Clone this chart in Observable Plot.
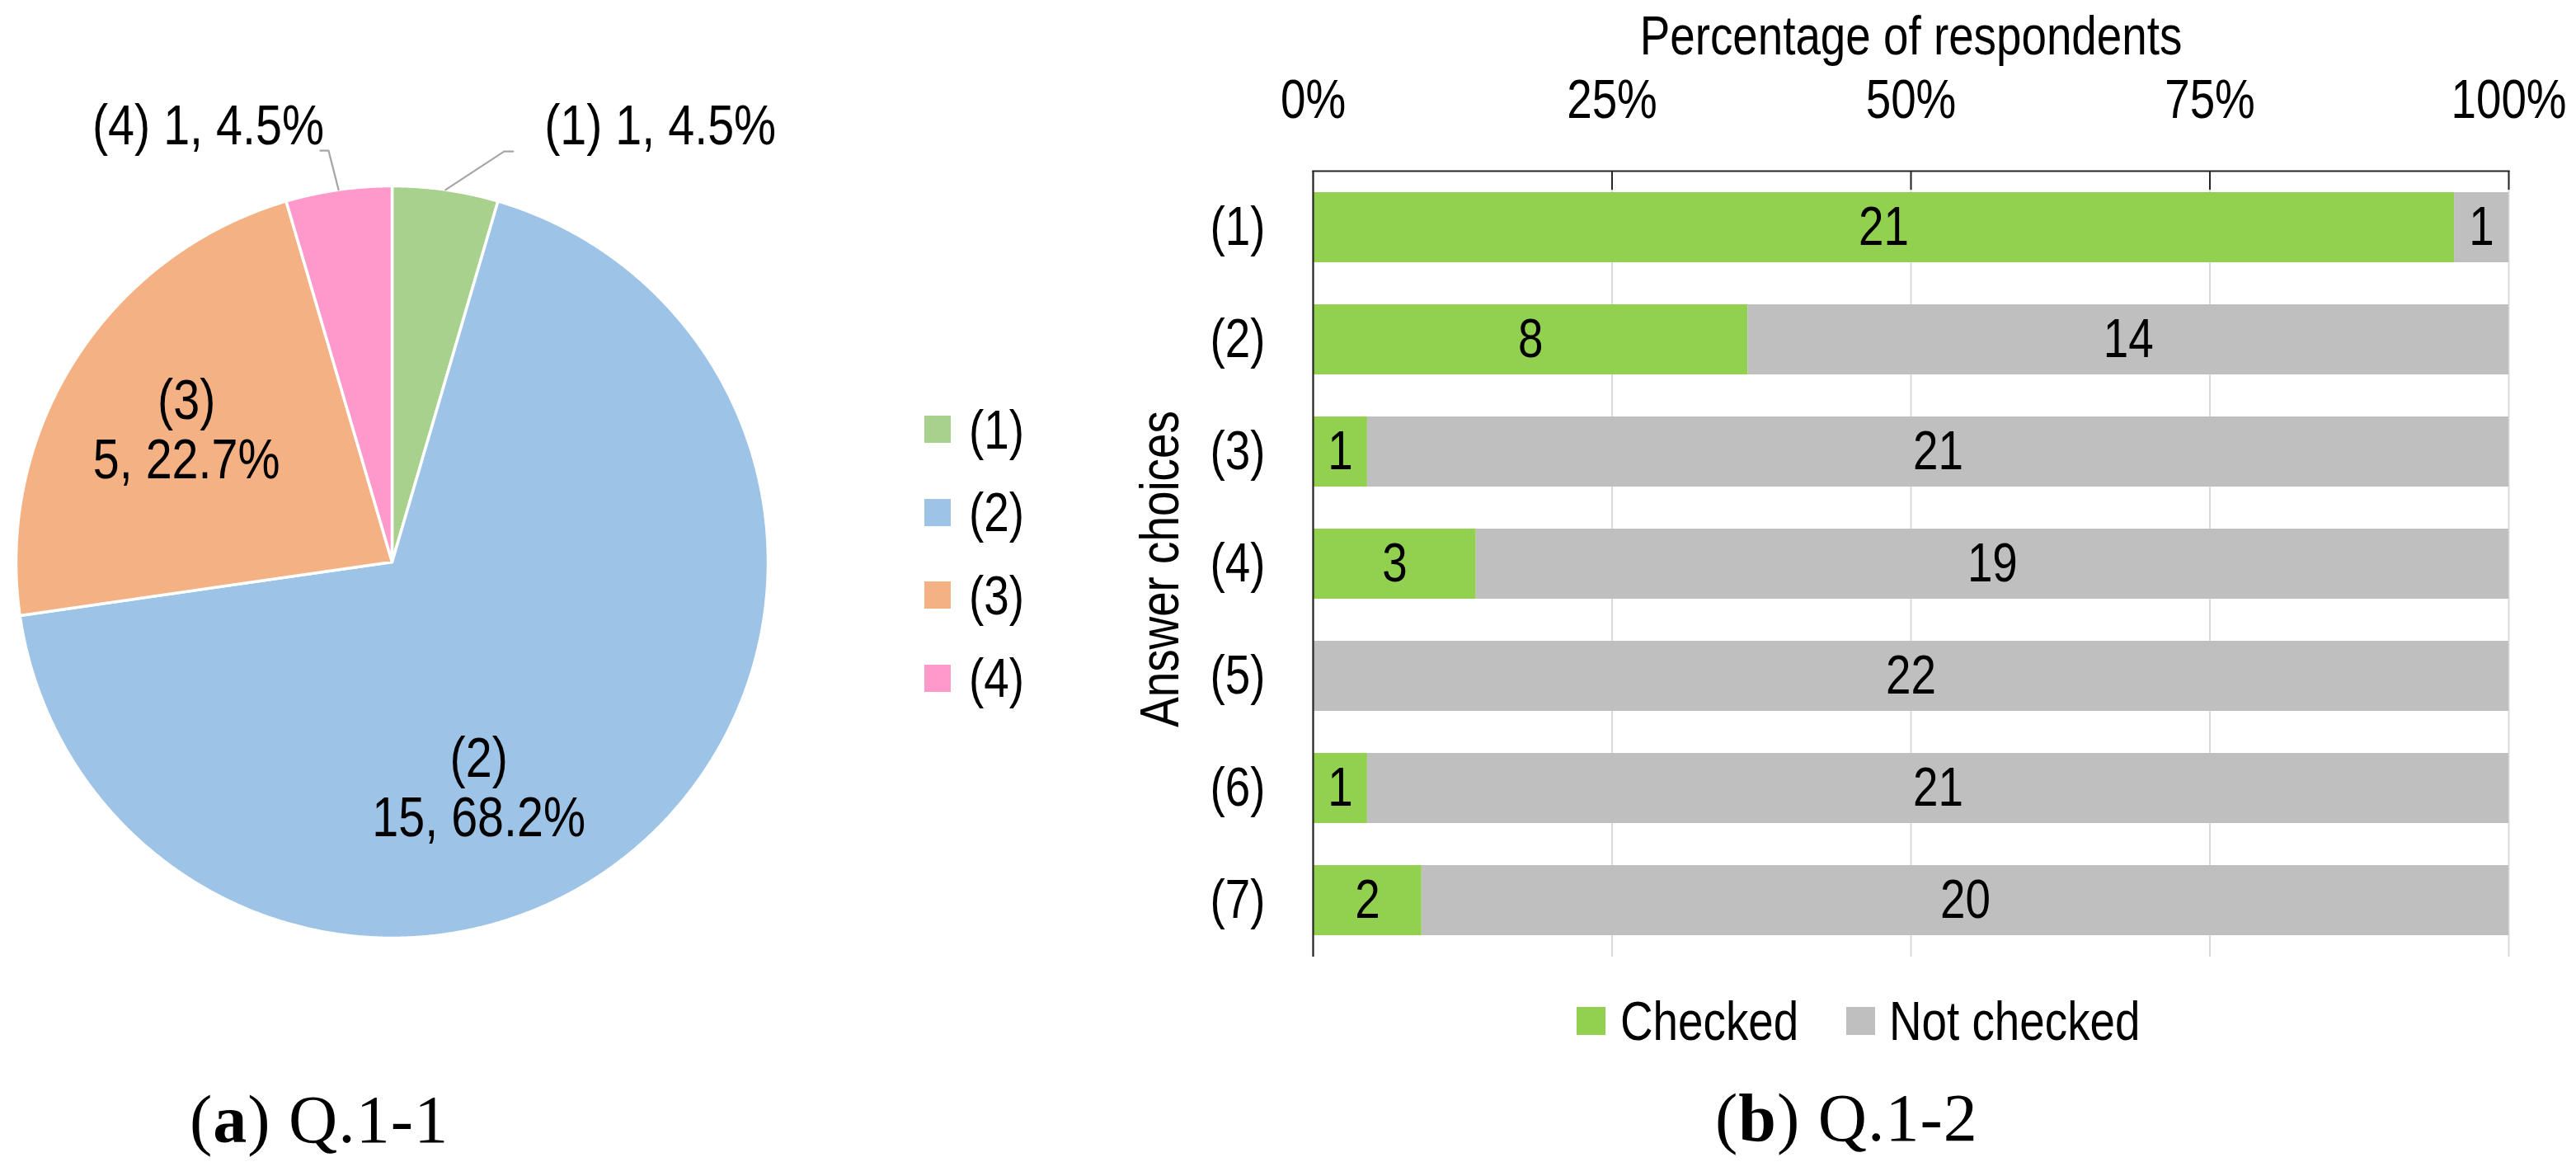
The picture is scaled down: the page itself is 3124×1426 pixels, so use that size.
<!DOCTYPE html>
<html>
<head>
<meta charset="utf-8">
<script src="https://cdn.jsdelivr.net/npm/d3@7"></script>
<script src="https://cdn.jsdelivr.net/npm/@observablehq/plot@0.6"></script>
<style>
  html, body { margin: 0; padding: 0; background: #fff; }
  #root { position: relative; width: 3124px; height: 1426px; overflow: hidden; background: #fff;
          font-family: "Liberation Sans", Arial, sans-serif; color: #000; }
  .abs { position: absolute; }
  .sw { position: absolute; }
  .lt { position: absolute; font-size: 66px; line-height: 66px; height: 66px; white-space: nowrap;
        transform: scaleX(0.83); transform-origin: 0 50%; }
  .cap { position: absolute; font-family: "Liberation Serif", "DejaVu Serif", serif; font-size: 82px; line-height: 82px; white-space: nowrap; letter-spacing: 1px; }
  .cap b { font-weight: bold; }
</style>
</head>
<body>
<div id="root"></div>
<script>
// ---------- data ----------
const pieCategories = ["(1)", "(2)", "(3)", "(4)"];
const pieCounts = [1, 15, 5, 1];
const pieColors = ["#A9D18E", "#9DC3E6", "#F4B183", "#FF99CC"];

const barChoices = ["(1)", "(2)", "(3)", "(4)", "(5)", "(6)", "(7)"];
const barStatuses = ["Checked", "Not checked"];
const checkedCounts = [21, 8, 1, 3, 0, 1, 2];
const notCheckedCounts = [1, 14, 21, 19, 22, 21, 20];
const barColors = ["#92D050", "#BFBFBF"];
const xTicks = [0, 0.25, 0.5, 0.75, 1];

const xAxisTitle = "Percentage of respondents";
const yAxisTitle = "Answer choices";
const captionA = ["a", "Q.1-1"];
const captionB = ["b", "Q.1-2"];

// ---------- layout (not data) ----------
const FONT = '"Liberation Sans", Arial, sans-serif';
const FS = 66;        // bar chart / legend font size
const PIE_FS = 68;    // pie label font size
// narrow the sans font horizontally (reference uses a condensed face)
const NARROW = 0.83;
const PIE_NARROW = 0.845;
const insideLabelPlacement = { "(2)": [0.581, 0.643], "(3)": [0.5, 0.65] };
const outsideLabelPlacement = {
  "(1)": { elbow: [0.298, 1.092], end: [0.322, 1.092], label: [0.405, 1.158], anchor: "start" },
  "(4)": { elbow: [-0.169, 1.094], end: [-0.191, 1.094], label: [-0.181, 1.158], anchor: "end" }
};

const root = document.getElementById("root");

function narrowTexts(svg, s) {
  svg.querySelectorAll("text").forEach(t => {
    const x = parseFloat(t.getAttribute("x")) || 0;
    const y = parseFloat(t.getAttribute("y")) || 0;
    const tr = t.getAttribute("transform") || "";
    t.setAttribute("transform", `${tr} translate(${x},${y}) scale(${s},1) translate(${-x},${-y})`.trim());
  });
}

// ---------- pie ----------
const total = d3.sum(pieCounts);
const arcs = d3.pie().sort(null).value(d => d)(pieCounts);
const pct = d3.format(".1%");
const slicePts = [];
arcs.forEach((a, i) => {
  const key = pieCategories[i];
  slicePts.push({ key, x: 0, y: 0 });
  const n = Math.max(2, Math.ceil((a.endAngle - a.startAngle) / (Math.PI / 720)));
  for (let k = 0; k <= n; k++) {
    const t = a.startAngle + (a.endAngle - a.startAngle) * k / n;
    slicePts.push({ key, x: Math.sin(t), y: Math.cos(t) });
  }
});

const insideLabels = [];
const outsideLabels = [];
const leaderPts = [];
arcs.forEach((a, i) => {
  const key = pieCategories[i];
  const v = pieCounts[i];
  if (insideLabelPlacement[key]) {
    const [f, r] = insideLabelPlacement[key];
    const t = a.startAngle + (a.endAngle - a.startAngle) * f;
    insideLabels.push({ x: r * Math.sin(t), y: r * Math.cos(t), text: `${key}\n${v}, ${pct(v / total)}` });
  } else if (outsideLabelPlacement[key]) {
    const p = outsideLabelPlacement[key];
    const t = (a.startAngle + a.endAngle) / 2;
    leaderPts.push({ key, x: Math.sin(t), y: Math.cos(t) });
    leaderPts.push({ key, x: p.elbow[0], y: p.elbow[1] });
    leaderPts.push({ key, x: p.end[0], y: p.end[1] });
    outsideLabels.push({ x: p.label[0], y: p.label[1], anchor: p.anchor, text: `${key} ${v}, ${pct(v / total)}` });
  }
});

const pie = Plot.plot({
  width: 1000, height: 1300,
  marginLeft: 19, marginRight: 69, marginTop: 225, marginBottom: 163,
  x: { domain: [-1, 1], axis: null },
  y: { domain: [-1, 1], axis: null },
  color: { domain: pieCategories, range: pieColors },
  style: { fontFamily: FONT, background: "transparent", color: "#000", overflow: "visible" },
  marks: [
    Plot.line(slicePts, { x: "x", y: "y", z: "key", fill: "key", stroke: "white", strokeWidth: 3.5, strokeLinejoin: "round", curve: "linear-closed" }),
    Plot.line(leaderPts, { x: "x", y: "y", z: "key", stroke: "#A6A6A6", strokeWidth: 2.2 }),
    Plot.text(insideLabels, { x: "x", y: "y", text: "text", fontSize: PIE_FS, lineHeight: 72 / PIE_FS, fill: "#000" }),
    Plot.text(outsideLabels.filter(d => d.anchor === "start"), { x: "x", y: "y", text: "text", fontSize: PIE_FS, textAnchor: "start", fill: "#000" }),
    Plot.text(outsideLabels.filter(d => d.anchor === "end"), { x: "x", y: "y", text: "text", fontSize: PIE_FS, textAnchor: "end", fill: "#000" })
  ]
});
narrowTexts(pie, PIE_NARROW);
pie.classList.add("abs");
pie.style.left = "0px";
pie.style.top = "0px";
root.appendChild(pie);

// pie legend
pieCategories.forEach((c, i) => {
  const cy = 520.5 + i * 100.5;
  const sw = document.createElement("div");
  sw.className = "sw";
  Object.assign(sw.style, { left: "1121px", top: (cy - 16.5) + "px", width: "32px", height: "33px", background: pieColors[i] });
  root.appendChild(sw);
  const t = document.createElement("div");
  t.className = "lt";
  Object.assign(t.style, { left: "1175px", top: (cy - 33) + "px" });
  t.textContent = c;
  root.appendChild(t);
});

// ---------- bar ----------
const barRows = barChoices.flatMap((c, i) => [
  { choice: c, status: barStatuses[0], count: checkedCounts[i] },
  { choice: c, status: barStatuses[1], count: notCheckedCounts[i] }
]);

const bar = Plot.plot({
  width: 1824, height: 1180,
  marginLeft: 292, marginRight: 82, marginTop: 207, marginBottom: 20,
  x: { domain: [0, 1], axis: null },
  y: { domain: barChoices, paddingInner: 0.375, paddingOuter: 0.1875, axis: null },
  color: { domain: barStatuses, range: barColors },
  style: { fontFamily: FONT, background: "transparent", color: "#000", overflow: "visible" },
  marks: [
    Plot.gridX(xTicks, { stroke: "#D9D9D9", strokeOpacity: 1, strokeWidth: 2 }),
    Plot.barX(barRows, Plot.stackX({ offset: "normalize", x: "count", y: "choice", fill: "status", inset: 0 })),
    Plot.text(barRows.filter(d => d.count > 0), Plot.stackX({ offset: "normalize", x: "count", y: "choice", z: "status", text: "count", fontSize: FS, fill: "#000" })),
    Plot.ruleX([0], { stroke: "#262626", strokeWidth: 2.2 }),
    Plot.ruleX(xTicks.slice(1), { stroke: "#262626", strokeWidth: 2, insetBottom: 930 }),
    Plot.frame({ anchor: "top", stroke: "#262626", strokeWidth: 2.2 }),
    Plot.axisX(xTicks, { anchor: "top", tickSize: 0, tickPadding: 65, tickFormat: d3.format(".0%"), fontSize: FS, label: null }),
    Plot.axisY({ anchor: "left", tickSize: 0, tickPadding: 58, fontSize: FS, label: null }),
    Plot.text([xAxisTitle], { frameAnchor: "top", lineAnchor: "middle", dy: -163, text: d => d, fontSize: FS, fill: "#000" }),
    Plot.text([yAxisTitle], { frameAnchor: "left", textAnchor: "middle", lineAnchor: "middle", dx: -185, dy: 6, rotate: -90, text: d => d, fontSize: FS, fill: "#000" })
  ]
});
narrowTexts(bar, NARROW);
bar.classList.add("abs");
bar.style.left = "1300px";
bar.style.top = "0px";
root.appendChild(bar);

// bar legend
const legY = 1238;
[[1912, 1965], [2239, 2291]].forEach(([sx, tx], i) => {
  const sw = document.createElement("div");
  sw.className = "sw";
  Object.assign(sw.style, { left: sx + "px", top: (legY - 17) + "px", width: "35px", height: "34px", background: barColors[i] });
  root.appendChild(sw);
  const t = document.createElement("div");
  t.className = "lt";
  Object.assign(t.style, { left: tx + "px", top: (legY - 33) + "px" });
  t.textContent = barStatuses[i];
  root.appendChild(t);
});

// captions
const capA = document.createElement("div");
capA.className = "cap";
capA.style.left = "230px";
capA.style.top = "1317px";
capA.innerHTML = `(<b>${captionA[0]}</b>) ${captionA[1]}`;
root.appendChild(capA);
const capB = document.createElement("div");
capB.className = "cap";
capB.style.left = "2080px";
capB.style.top = "1315px";
capB.innerHTML = `(<b>${captionB[0]}</b>) ${captionB[1]}`;
root.appendChild(capB);
</script>
</body>
</html>
